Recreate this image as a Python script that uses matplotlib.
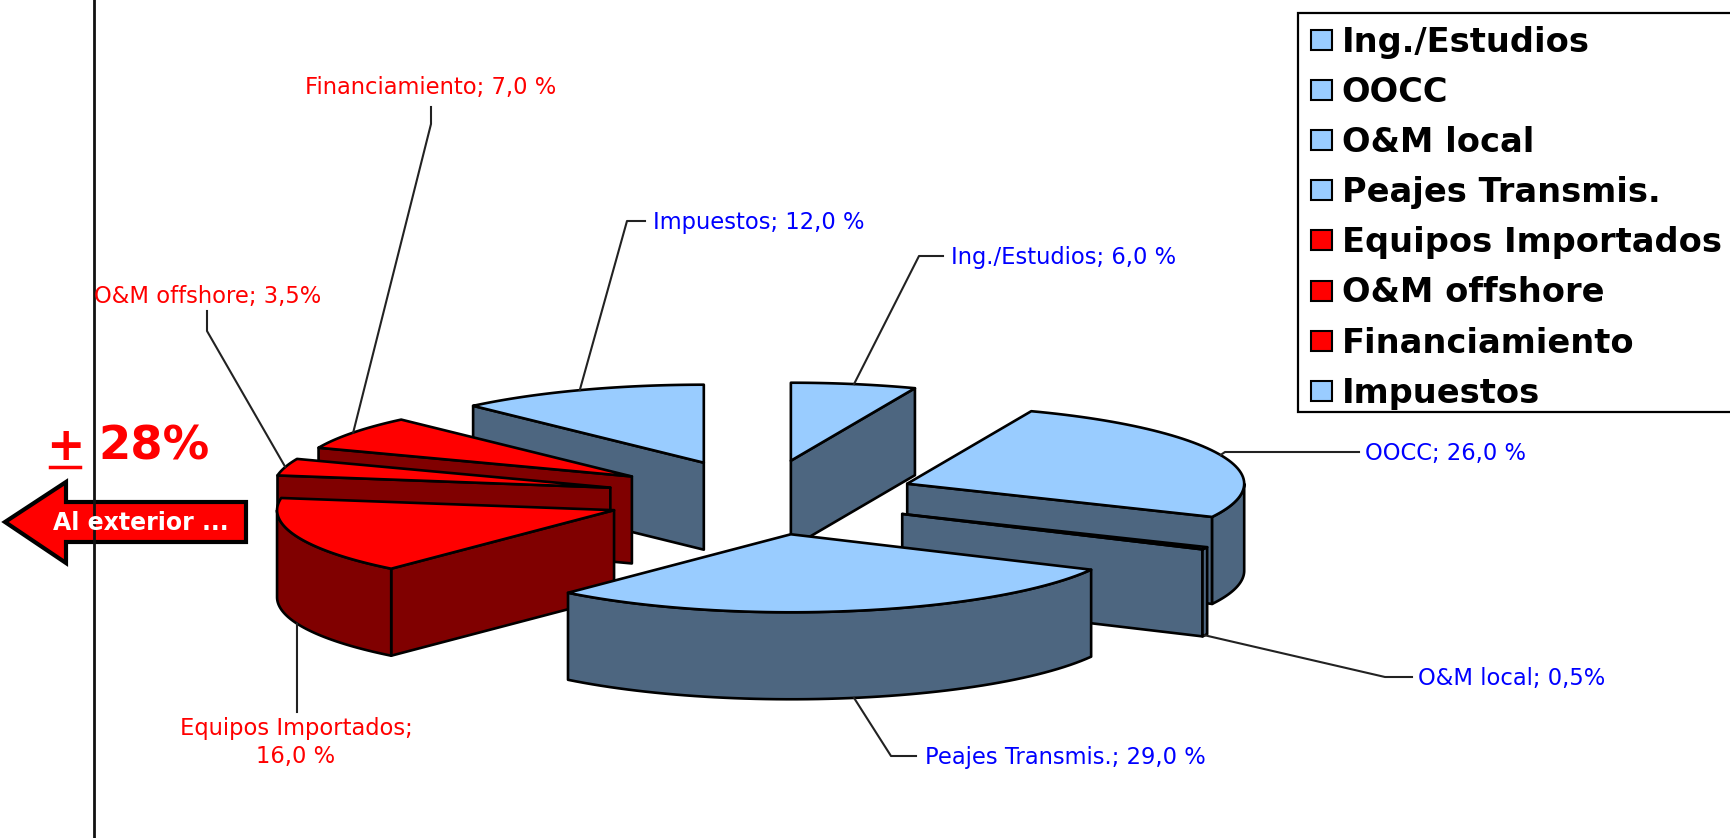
#!/usr/bin/env python3

import numpy as np
import matplotlib
matplotlib.use("Agg")
import matplotlib.pyplot as plt
from matplotlib.patches import Patch, Polygon, Rectangle

categories = ["Ing./Estudios", "OOCC", "O&M local", "Peajes Transmis.",
              "Equipos Importados", "O&M offshore", "Financiamiento", "Impuestos"]
shares = [6.0, 26.0, 0.5, 29.0, 16.0, 3.5, 7.0, 12.0]
is_foreign = [False, False, False, False, True, True, True, False]
slice_labels = ["Ing./Estudios; 6,0 %", "OOCC; 26,0 %", "O&M local; 0,5%",
                "Peajes Transmis.; 29,0 %", "Equipos Importados;\n16,0 %",
                "O&M offshore; 3,5%", "Financiamiento; 7,0 %", "Impuestos; 12,0 %"]

# back to front
DRAW_ORDER = [7, 0, 6, 5, 1, 2, 4, 3]

CENTER = (761.5, 497.5)
RX, RY = 337, 78
DEPTH = 87
EXPLODE_X, EXPLODE_Y = 0.465, 0.48

TOP_BLUE, WALL_BLUE = "#99CCFF", "#4D6680"
TOP_RED, WALL_RED = "#FF0000", "#800000"

# elbow point of each leader and where its label sits (pixels)
LEADERS = [
    ((919, 256), (943, 256), (951, 257.5), "left"),
    ((1225, 452), (1359, 452), (1365, 453.5), "left"),
    ((1385, 677), (1412, 677), (1418, 678.5), "left"),
    ((891, 756), (916, 756), (925, 757.5), "left"),
    ((297, 712), (297, 712), (296, 742.5), "center"),
    ((207, 331), (207, 311), (208, 296.5), "center"),
    ((431, 124), (431, 107), (431, 87.5), "center"),
    ((627, 221), (645, 221), (653, 222.5), "left"),
]


def rim(apex, angles, drop=0):
    t = np.radians(angles)
    return np.column_stack([apex[0] + RX * np.sin(t), apex[1] - RY * np.cos(t) + drop])


def wall(ax, pts, color):
    lowered = pts[::-1] + [0, DEPTH]
    ax.add_patch(Polygon(np.vstack([pts, lowered]), closed=True, facecolor=color,
                         edgecolor="black", linewidth=1.9, joinstyle="round"))


def draw_slice(ax, apex, a, b, top, side):
    apex_arr = np.array([apex])
    if np.sin(np.radians(a)) < -1e-6:
        wall(ax, np.vstack([apex_arr, rim(apex, [a])]), side)
    if np.sin(np.radians(b)) > 1e-6:
        wall(ax, np.vstack([apex_arr, rim(apex, [b])]), side)
    lo, hi = max(a, 90), min(b, 270)
    if lo < hi:
        wall(ax, rim(apex, np.linspace(lo, hi, 60)), side)
    arc = rim(apex, np.linspace(a, b, 60))
    ax.add_patch(Polygon(np.vstack([apex_arr, arc]), closed=True, facecolor=top,
                         edgecolor="black", linewidth=1.9, joinstyle="round"))


def main():
    fig = plt.figure(figsize=(17.3, 8.38), dpi=100)
    ax = fig.add_axes([0, 0, 1, 1])
    ax.set_xlim(0, 1730)
    ax.set_ylim(838, 0)
    ax.axis("off")

    ax.plot([94, 94], [0, 838], color="#111111", linewidth=2)

    edges = np.concatenate([[0], np.cumsum(shares)]) * 3.6
    apexes = []
    for a, b in zip(edges[:-1], edges[1:]):
        mid = np.radians((a + b) / 2)
        apexes.append((CENTER[0] + EXPLODE_X * RX * np.sin(mid),
                       CENTER[1] - EXPLODE_Y * RY * np.cos(mid)))

    for i, label in enumerate(slice_labels):
        mid = (edges[i] + edges[i + 1]) / 2
        drop = DEPTH if 90 < mid < 270 else 0
        end = rim(apexes[i], [mid], drop)[0]
        elbow, start, pos, ha = LEADERS[i]
        ax.plot([end[0], elbow[0], start[0]], [end[1], elbow[1], start[1]],
                color="#222222", linewidth=1.5)
        ax.text(pos[0], pos[1], label, ha=ha, va="center", ma="center", linespacing=1.25,
                fontsize=16.3, color="#FF0000" if is_foreign[i] else "#0000FF")

    for i in DRAW_ORDER:
        top, side = (TOP_RED, WALL_RED) if is_foreign[i] else (TOP_BLUE, WALL_BLUE)
        draw_slice(ax, apexes[i], edges[i], edges[i + 1], top, side)

    # the frame runs off the right edge and is tighter below than a legend frame
    ax.add_patch(Rectangle((1298, 13), 440, 399, facecolor="white", edgecolor="black", linewidth=1.6))
    handles = [Patch(facecolor=TOP_RED if f else TOP_BLUE, edgecolor="black", linewidth=1.5)
               for f in is_foreign]
    ax.legend(handles, categories, loc="upper left", bbox_to_anchor=(1298, 13),
              bbox_transform=ax.transData, borderaxespad=0, frameon=False,
              prop={"weight": "bold", "size": 24.2}, borderpad=0.38, labelspacing=0.51,
              handlelength=0.63, handleheight=0.54, handletextpad=0.29)

    ax.text(46, 447, "+", color="#FF0000", fontsize=33, fontweight="bold", va="center")
    ax.plot([50, 80], [467, 467], color="#FF0000", linewidth=2.5)
    ax.text(98, 447, "28%", color="#FF0000", fontsize=33.5, fontweight="bold", va="center")

    arrow = [(5, 522), (66, 482), (66, 502), (246, 502), (246, 542), (66, 542), (66, 563)]
    ax.add_patch(Polygon(arrow, closed=True, facecolor="#FF0000", edgecolor="black", linewidth=3))
    ax.text(53, 523, "Al exterior ...", color="white", fontsize=17, fontweight="bold", va="center")

    fig.savefig("out.png", dpi=100, facecolor="white")
    plt.close(fig)


if __name__ == "__main__":
    main()
